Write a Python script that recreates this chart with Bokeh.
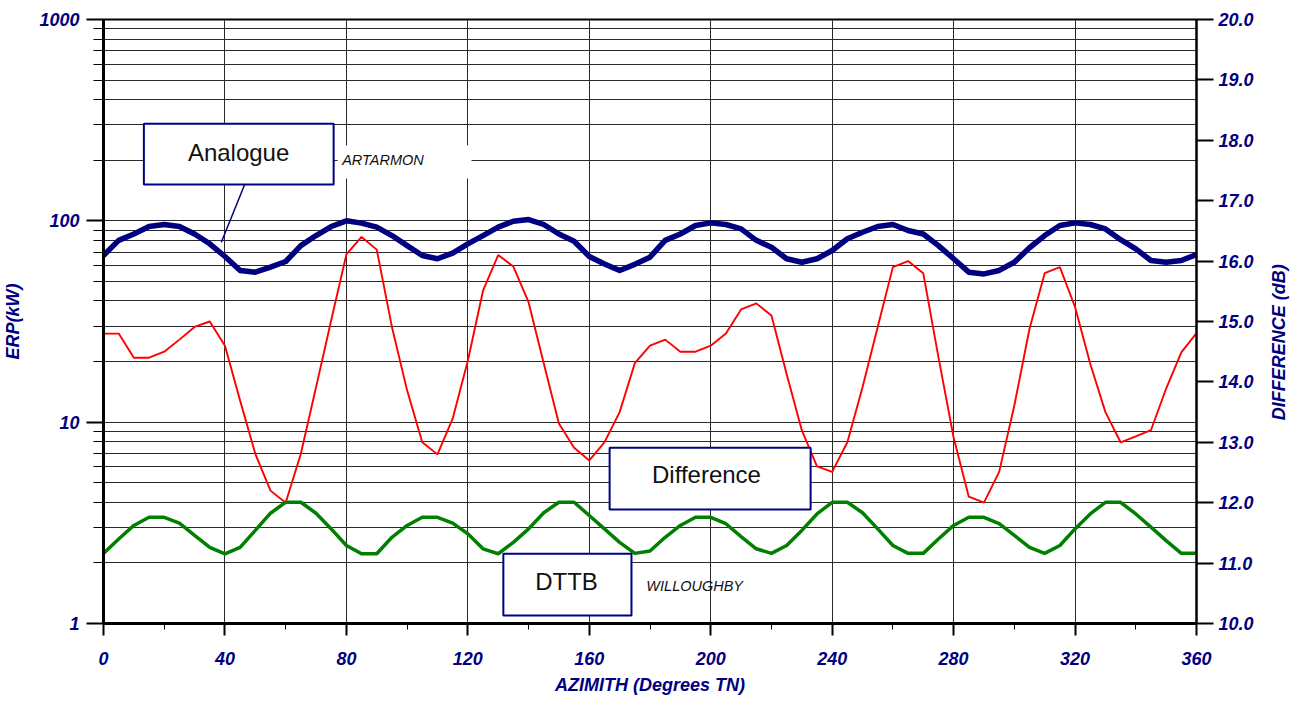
import math
from bokeh.plotting import figure
from bokeh.layouts import row
from bokeh.core.properties import value
from bokeh.models import (Range1d, LinearAxis, LinearScale, FixedTicker, NumeralTickFormatter,
                          BoxAnnotation, Label, Arrow)
from bokeh.embed import file_html
from bokeh.resources import INLINE

# ---- data ----
azimuth = list(range(0, 361, 5))

analogue_kw = [67.3, 80.0, 86.0, 93.7, 95.9, 93.7, 86.0, 76.9, 66.5, 56.7,
               55.6, 58.9, 62.8, 75.3, 84.5, 93.7, 100.0, 97.4, 93.0, 84.5,
               75.3, 67.3, 64.8, 69.1, 76.9, 84.5, 93.0, 99.6, 101.5, 95.9,
               86.0, 79.2, 66.5, 61.1, 56.7, 60.8, 66.0, 80.0, 86.0, 94.8,
               97.7, 95.9, 91.2, 80.0, 73.9, 64.8, 62.3, 64.8, 71.2, 81.5,
               87.8, 93.7, 95.9, 89.5, 86.0, 75.3, 64.8, 55.6, 54.5, 56.7,
               62.3, 73.5, 84.5, 94.8, 97.7, 95.9, 91.2, 80.6, 72.6, 63.5,
               62.3, 63.5, 68.1]

dttb_kw = [2.23, 2.63, 3.07, 3.37, 3.37, 3.15, 2.74, 2.39, 2.22, 2.39,
           2.90, 3.53, 4.00, 4.00, 3.53, 2.95, 2.44, 2.22, 2.22, 2.68,
           3.07, 3.37, 3.37, 3.15, 2.79, 2.35, 2.22, 2.53, 2.95, 3.55,
           4.00, 4.00, 3.44, 2.95, 2.53, 2.23, 2.29, 2.68, 3.07, 3.37,
           3.37, 3.13, 2.70, 2.35, 2.23, 2.44, 2.90, 3.50, 4.00, 4.00,
           3.55, 2.95, 2.44, 2.23, 2.23, 2.63, 3.07, 3.37, 3.37, 3.13,
           2.74, 2.39, 2.23, 2.44, 2.95, 3.50, 4.00, 4.00, 3.50, 3.01,
           2.58, 2.23, 2.23]

difference_db = [14.80, 14.80, 14.40, 14.40, 14.50, 14.70, 14.91, 15.00, 14.60, 13.69,
                 12.81, 12.20, 12.00, 12.81, 13.91, 15.02, 16.11, 16.40, 16.19, 14.91,
                 13.86, 13.00, 12.80, 13.39, 14.35, 15.51, 16.10, 15.91, 15.32, 14.31,
                 13.31, 12.91, 12.70, 13.00, 13.50, 14.31, 14.60, 14.70, 14.50, 14.50,
                 14.60, 14.80, 15.20, 15.30, 15.10, 14.13, 13.20, 12.60, 12.51, 13.00,
                 13.91, 14.91, 15.90, 16.00, 15.80, 14.41, 13.08, 12.10, 12.00, 12.51,
                 13.61, 14.88, 15.80, 15.90, 15.24, 14.30, 13.50, 13.00, 13.10, 13.20,
                 13.89, 14.49, 14.81]

x_ticks = list(range(0, 361, 40))
x_minor = list(range(20, 361, 40))
erp_ticks = [1, 10, 100, 1000]
erp_minor = [m * d for d in (1, 10, 100) for m in range(2, 10)]
diff_ticks = list(range(10, 21))

NAVY = "#000080"
FONT = "Liberation Sans"
GRID = "#2a2a2a"

p = figure(width=1266, height=702, y_axis_type="log",
           x_range=Range1d(0, 360), y_range=Range1d(1, 1000),
           output_backend="svg", toolbar_location=None,
           min_border_left=103, min_border_right=70,
           min_border_top=19, min_border_bottom=79)
p.extra_y_ranges = {"diff": Range1d(10, 20)}
p.extra_y_scales = {"diff": LinearScale()}
p.background_fill_color = "white"
p.border_fill_color = "white"
p.outline_line_color = "black"
p.outline_line_width = 2

# grids
p.xgrid.ticker = FixedTicker(ticks=x_ticks)
p.xgrid.grid_line_color = GRID
p.xgrid.grid_line_width = 1
p.ygrid.ticker = FixedTicker(ticks=erp_ticks, minor_ticks=erp_minor)
p.ygrid.grid_line_color = GRID
p.ygrid.minor_grid_line_color = GRID
p.ygrid.grid_line_width = 1
p.ygrid.minor_grid_line_width = 1

# x axis
xa = p.xaxis[0]
xa.ticker = FixedTicker(ticks=x_ticks, minor_ticks=x_minor)
xa.axis_label = "AZIMITH (Degrees TN)"
xa.axis_line_width = 3
xa.major_tick_out = 12
xa.major_tick_in = 0
xa.minor_tick_out = 6
xa.minor_tick_in = 0
xa.major_tick_line_width = 2
xa.major_label_standoff = 16
xa.axis_label_standoff = 7

# left axis
ya = p.yaxis[0]
ya.ticker = FixedTicker(ticks=erp_ticks, minor_ticks=erp_minor)
ya.formatter = NumeralTickFormatter(format="0")
ya.axis_label = "ERP(kW)"
ya.axis_line_width = 3
ya.major_tick_out = 17
ya.major_tick_in = 0
ya.minor_tick_out = 10
ya.minor_tick_in = 0
ya.major_tick_line_width = 2
ya.major_label_standoff = 7
ya.axis_label_standoff = 13

# right axis (its title is drawn in a narrow side figure so it reads bottom-to-top)
ra = LinearAxis(y_range_name="diff", ticker=FixedTicker(ticks=diff_ticks),
                formatter=NumeralTickFormatter(format="0.0"))
ra.axis_line_width = 2
ra.major_tick_out = 17
ra.major_tick_in = 0
ra.minor_tick_out = 0
ra.minor_tick_in = 0
ra.major_tick_line_width = 2
ra.major_label_standoff = 5
p.add_layout(ra, "right")

for ax in (xa, ya, ra):
    ax.major_label_text_font = FONT
    ax.major_label_text_font_style = "bold italic"
    ax.major_label_text_font_size = "18px"
    ax.major_label_text_color = NAVY
    ax.axis_label_text_font = FONT
    ax.axis_label_text_font_style = "bold italic"
    ax.axis_label_text_font_size = "18px"
    ax.axis_label_text_color = NAVY
    ax.axis_line_color = "black"
    ax.major_tick_line_color = "black"
    ax.minor_tick_line_color = "black"

# series
p.line(azimuth, difference_db, y_range_name="diff", line_color="#ff0000", line_width=1.9)
p.line(azimuth, dttb_kw, line_color="#007f00", line_width=3.5)
p.line(azimuth, analogue_kw, line_color=NAVY, line_width=5.5, line_join="round")

# callout boxes
def callout(left, right, bottom, top, text, cx, cy):
    p.add_layout(BoxAnnotation(left=left, right=right, bottom=bottom, top=top,
                               fill_color="white", fill_alpha=1.0,
                               line_color=NAVY, line_width=2, line_alpha=1.0))
    p.add_layout(Label(x=cx, y=cy, text=text, text_font=FONT, text_font_size="24px",
                       text_color="#111111", text_align="center", text_baseline="middle"))

p.add_layout(Arrow(end=None, x_start=46.5, y_start=151.5, x_end=38.8, y_end=78.3,
                   line_color=NAVY, line_width=1.5))
callout(13.3, 75.8, 151.5, 303.4, "Analogue", 44.5, 219)
callout(166.7, 232.9, 3.684, 7.46, "Difference", 198.6, 5.5)
callout(131.7, 173.9, 1.096, 2.22, "DTTB", 152.5, 1.617)

p.add_layout(BoxAnnotation(left=77.1, right=121.2, bottom=162.3, top=236.6,
                           fill_color="white", fill_alpha=1.0, line_alpha=0))
p.add_layout(Label(x=78.6, y=201, text="ARTARMON", text_font=FONT,
                   text_font_style="italic", text_font_size="14.5px", text_color="#111111",
                   text_align="left", text_baseline="middle"))
p.add_layout(Label(x=178.8, y=1.544, text="WILLOUGHBY", text_font=FONT,
                   text_font_style="italic", text_font_size="14.5px", text_color="#111111",
                   text_align="left", text_baseline="middle"))

# narrow side panel carrying the right-hand axis title
side = figure(width=38, height=702, x_range=Range1d(0, 38), y_range=Range1d(0, 702),
              output_backend="svg", toolbar_location=None,
              min_border_left=0, min_border_right=0, min_border_top=0, min_border_bottom=0)
side.axis.visible = False
side.grid.visible = False
side.outline_line_color = None
side.background_fill_color = "white"
side.border_fill_color = "white"
side.text(x=[12], y=[327], text=["DIFFERENCE (dB)"], angle=math.pi / 2,
          text_font=value(FONT), text_font_style="bold italic", text_font_size="18px",
          text_color=NAVY, text_align="center", text_baseline="middle")

layout = row(p, side, spacing=0)
open("out.html", "w").write(file_html(layout, INLINE))
